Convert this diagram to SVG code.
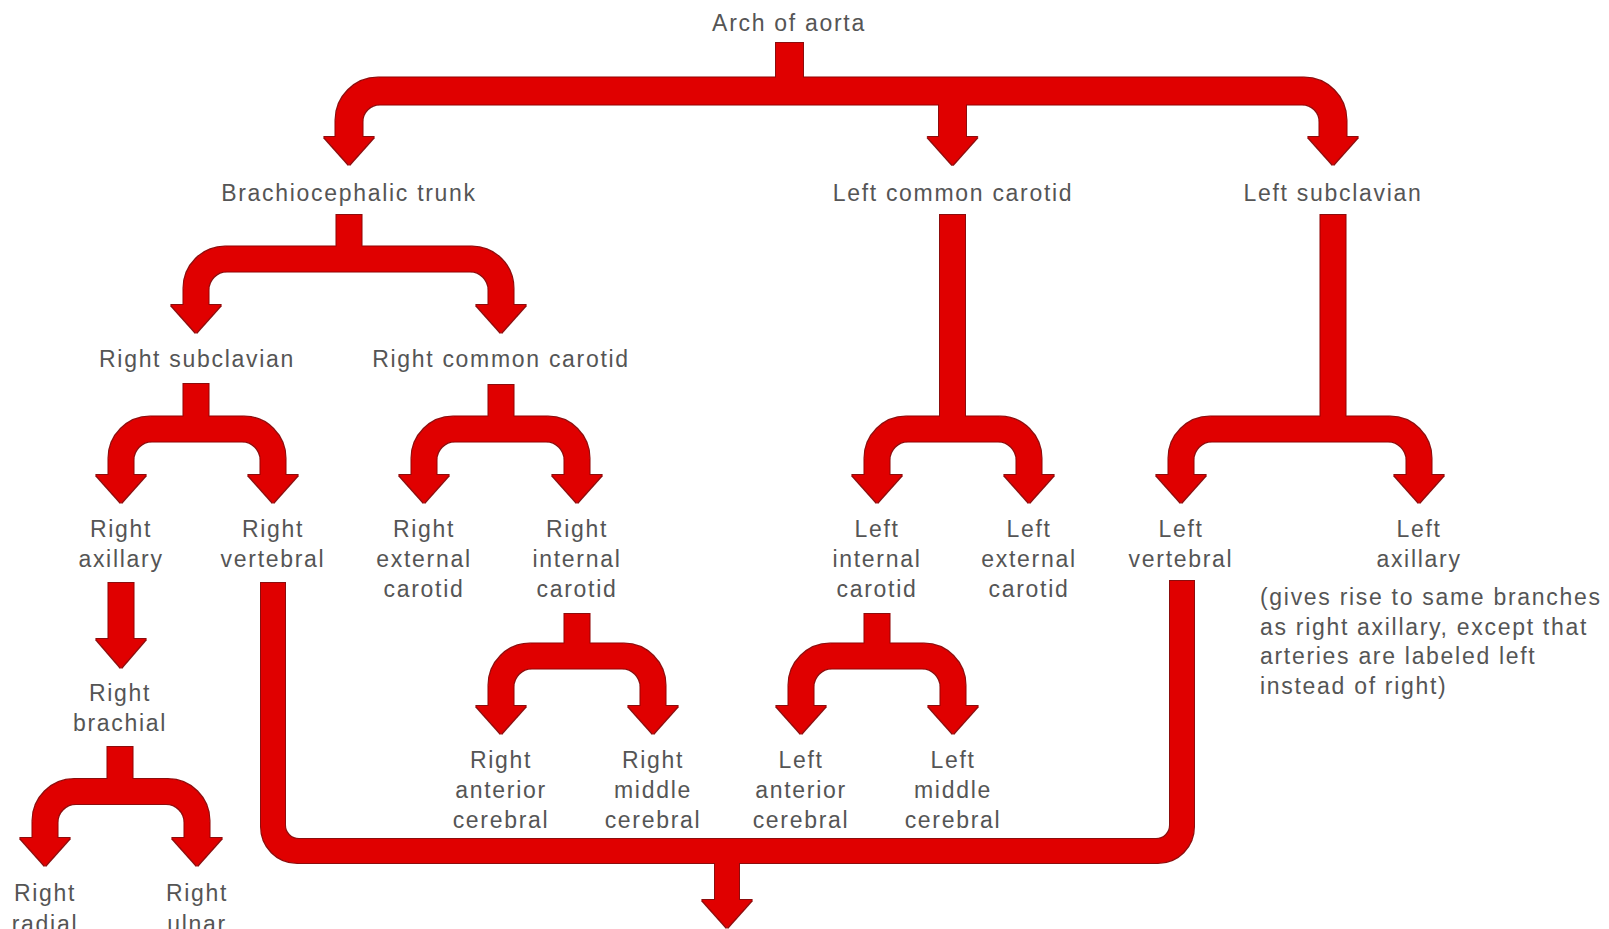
<svg xmlns="http://www.w3.org/2000/svg" width="1609" height="929" viewBox="0 0 1609 929">
<style>
  text { font-family: "Liberation Sans", Arial, sans-serif; font-size: 23px; letter-spacing: 1.7px; fill: #555; text-anchor: middle; }
  text.note { text-anchor: start; }
  .shaft { fill: none; stroke: #e00000; stroke-width: 25; stroke-linejoin: miter; }
  .main { stroke-width: 27; }
  .loop { stroke-width: 24; }
  .head { fill: #e00000; }
</style>
<defs>
  <filter id="edge" x="-2%" y="-2%" width="104%" height="104%">
    <feMorphology in="SourceAlpha" operator="dilate" radius="1.1" result="d"/>
    <feFlood flood-color="#8c0a0a" result="c"/>
    <feComposite in="c" in2="d" operator="in" result="o"/>
    <feMerge><feMergeNode in="o"/><feMergeNode in="SourceGraphic"/></feMerge>
  </filter>
</defs>
<rect width="1609" height="929" fill="#ffffff"/>

<g id="connectors" filter="url(#edge)">
  <!-- Arch of aorta fork -->
  <path class="shaft main" d="M789.5 43 V91"/>
  <path class="shaft main" d="M349 139 V121 A30 30 0 0 1 379 91 H1303 A30 30 0 0 1 1333 121 V139"/>
  <path class="shaft main" d="M952.5 91 V139"/>
  <polygon class="head" points="324,137 374,137 349,165"/>
  <polygon class="head" points="927.5,137 977.5,137 952.5,165"/>
  <polygon class="head" points="1308,137 1358,137 1333,165"/>

  <!-- Brachiocephalic trunk fork -->
  <path class="shaft" d="M349 215 V259"/>
  <path class="shaft" d="M196 307 V289 A30 30 0 0 1 226 259 H471 A30 30 0 0 1 501 289 V307"/>
  <polygon class="head" points="171,305 221,305 196,333"/>
  <polygon class="head" points="476,305 526,305 501,333"/>

  <!-- Right subclavian fork -->
  <path class="shaft" d="M196 384 V429"/>
  <path class="shaft" d="M121 477 V459 A30 30 0 0 1 151 429 H243 A30 30 0 0 1 273 459 V477"/>
  <polygon class="head" points="96,475 146,475 121,503"/>
  <polygon class="head" points="248,475 298,475 273,503"/>

  <!-- Right common carotid fork -->
  <path class="shaft" d="M501 385 V429"/>
  <path class="shaft" d="M424 477 V459 A30 30 0 0 1 454 429 H547 A30 30 0 0 1 577 459 V477"/>
  <polygon class="head" points="399,475 449,475 424,503"/>
  <polygon class="head" points="552,475 602,475 577,503"/>

  <!-- Left common carotid fork -->
  <path class="shaft" d="M952.5 215 V429"/>
  <path class="shaft" d="M877 477 V459 A30 30 0 0 1 907 429 H999 A30 30 0 0 1 1029 459 V477"/>
  <polygon class="head" points="852,475 902,475 877,503"/>
  <polygon class="head" points="1004,475 1054,475 1029,503"/>

  <!-- Left subclavian fork -->
  <path class="shaft" d="M1333 215 V429"/>
  <path class="shaft" d="M1181 477 V459 A30 30 0 0 1 1211 429 H1389 A30 30 0 0 1 1419 459 V477"/>
  <polygon class="head" points="1156,475 1206,475 1181,503"/>
  <polygon class="head" points="1394,475 1444,475 1419,503"/>

  <!-- Right axillary to Right brachial -->
  <path class="shaft" d="M121 583 V641"/>
  <polygon class="head" points="96,639 146,639 121,668"/>

  <!-- Right brachial fork -->
  <path class="shaft" d="M120 747 V791.5"/>
  <path class="shaft" d="M45 840 V821.5 A30 30 0 0 1 75 791.5 H167 A30 30 0 0 1 197 821.5 V840"/>
  <polygon class="head" points="20,838 70,838 45,866"/>
  <polygon class="head" points="172,838 222,838 197,866"/>

  <!-- Right internal carotid fork -->
  <path class="shaft" d="M577 614 V656"/>
  <path class="shaft" d="M501 708 V686 A30 30 0 0 1 531 656 H623 A30 30 0 0 1 653 686 V708"/>
  <polygon class="head" points="476,706 526,706 501,734"/>
  <polygon class="head" points="628,706 678,706 653,734"/>

  <!-- Left internal carotid fork -->
  <path class="shaft" d="M877 614 V656"/>
  <path class="shaft" d="M801 708 V686 A30 30 0 0 1 831 656 H923 A30 30 0 0 1 953 686 V708"/>
  <polygon class="head" points="776,706 826,706 801,734"/>
  <polygon class="head" points="928,706 978,706 953,734"/>

  <!-- Vertebral loop and down arrow -->
  <path class="shaft loop" d="M273 583 V826 A25 25 0 0 0 298 851 H1157 A25 25 0 0 0 1182 826 V581"/>
  <path class="shaft loop" d="M727 851 V902"/>
  <polygon class="head" points="702,900 752,900 727,928"/>
</g>

<g id="arch-of-aorta"><text x="789" y="31">Arch of aorta</text></g>
<g id="brachiocephalic-trunk"><text x="349" y="201">Brachiocephalic trunk</text></g>
<g id="left-common-carotid"><text x="953" y="201">Left common carotid</text></g>
<g id="left-subclavian"><text x="1333" y="201">Left subclavian</text></g>
<g id="right-subclavian"><text x="197" y="367">Right subclavian</text></g>
<g id="right-common-carotid"><text x="501" y="367">Right common carotid</text></g>

<g id="right-axillary"><text x="121" y="537">Right</text><text x="121" y="567">axillary</text></g>
<g id="right-vertebral"><text x="273" y="537">Right</text><text x="273" y="567">vertebral</text></g>
<g id="right-external-carotid"><text x="424" y="537">Right</text><text x="424" y="567">external</text><text x="424" y="597">carotid</text></g>
<g id="right-internal-carotid"><text x="577" y="537">Right</text><text x="577" y="567">internal</text><text x="577" y="597">carotid</text></g>
<g id="left-internal-carotid"><text x="877" y="537">Left</text><text x="877" y="567">internal</text><text x="877" y="597">carotid</text></g>
<g id="left-external-carotid"><text x="1029" y="537">Left</text><text x="1029" y="567">external</text><text x="1029" y="597">carotid</text></g>
<g id="left-vertebral"><text x="1181" y="537">Left</text><text x="1181" y="567">vertebral</text></g>
<g id="left-axillary">
  <text x="1419" y="537">Left</text><text x="1419" y="567">axillary</text>
  <text class="note" x="1260" y="605">(gives rise to same branches</text>
  <text class="note" x="1260" y="634.5">as right axillary, except that</text>
  <text class="note" x="1260" y="664">arteries are labeled left</text>
  <text class="note" x="1260" y="693.5">instead of right)</text>
</g>

<g id="right-brachial"><text x="120" y="701">Right</text><text x="120" y="731">brachial</text></g>

<g id="right-anterior-cerebral"><text x="501" y="768">Right</text><text x="501" y="798">anterior</text><text x="501" y="828">cerebral</text></g>
<g id="right-middle-cerebral"><text x="653" y="768">Right</text><text x="653" y="798">middle</text><text x="653" y="828">cerebral</text></g>
<g id="left-anterior-cerebral"><text x="801" y="768">Left</text><text x="801" y="798">anterior</text><text x="801" y="828">cerebral</text></g>
<g id="left-middle-cerebral"><text x="953" y="768">Left</text><text x="953" y="798">middle</text><text x="953" y="828">cerebral</text></g>

<g id="right-radial"><text x="45" y="901">Right</text><text x="45" y="932">radial</text></g>
<g id="right-ulnar"><text x="197" y="901">Right</text><text x="197" y="932">ulnar</text></g>
</svg>
